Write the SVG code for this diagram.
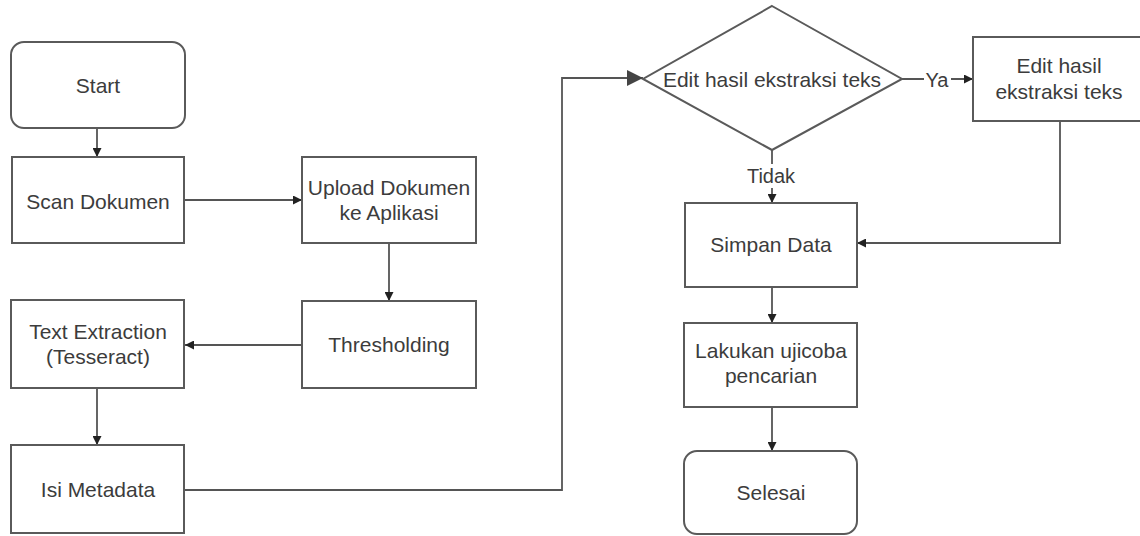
<svg xmlns="http://www.w3.org/2000/svg" width="1140" height="536" viewBox="0 0 1140 536">
<defs>
<marker id="arr" viewBox="0 0 10 10" refX="10" refY="5" markerWidth="9" markerHeight="9" markerUnits="userSpaceOnUse" orient="auto">
<path d="M0,0 L10,5 L0,10 Z" fill="#222"/>
</marker>
<marker id="arrBig" viewBox="0 0 10 10" refX="10" refY="5" markerWidth="16" markerHeight="16" markerUnits="userSpaceOnUse" orient="auto">
<path d="M0,0 L10,5 L0,10 Z" fill="#444"/>
</marker>
<style>
.box{fill:#fff;stroke:#5a5a5a;stroke-width:2}
.t{font-family:"Liberation Sans",Arial,sans-serif;font-size:21px;fill:#3c3c3c;text-anchor:middle}
.c{fill:none;stroke:#555;stroke-width:1.8}
.lbl{font-family:"Liberation Sans",Arial,sans-serif;font-size:20px;fill:#3c3c3c;text-anchor:middle}
</style>
</defs>
<rect width="1140" height="536" fill="#fff"/>
<g id="connectors">
<path class="c" d="M97,128 V157" marker-end="url(#arr)"/>
<path class="c" d="M184,200 H302" marker-end="url(#arr)"/>
<path class="c" d="M389,243 V301" marker-end="url(#arr)"/>
<path class="c" d="M302,345 H185" marker-end="url(#arr)"/>
<path class="c" d="M97,388 V445" marker-end="url(#arr)"/>
<path class="c" d="M185,490 H562 V78 H643" marker-end="url(#arrBig)"/>
<path class="c" d="M902,79 H973" marker-end="url(#arr)"/>
<path class="c" d="M772,150 V203" marker-end="url(#arr)"/>
<path class="c" d="M1060,121 V243 H857" marker-end="url(#arr)"/>
<path class="c" d="M772,287 V323" marker-end="url(#arr)"/>
<path class="c" d="M772,407 V451" marker-end="url(#arr)"/>
<rect x="924" y="68" width="27" height="22" fill="#fff"/>
<text class="lbl" x="937" y="87">Ya</text>
<rect x="745" y="164" width="54" height="24" fill="#fff"/>
<text class="lbl" x="771" y="183">Tidak</text>
</g>
<g id="start">
<rect class="box" x="11" y="42" width="174" height="86" rx="13"/>
<text class="t" x="98" y="93">Start</text>
</g>
<g id="scan">
<rect class="box" x="12" y="157" width="172" height="86"/>
<text class="t" x="98" y="209">Scan Dokumen</text>
</g>
<g id="upload">
<rect class="box" x="302" y="157" width="174" height="86"/>
<text class="t" x="389" y="195">Upload Dokumen</text>
<text class="t" x="389" y="220">ke Aplikasi</text>
</g>
<g id="thresholding">
<rect class="box" x="302" y="301" width="174" height="87"/>
<text class="t" x="389" y="352">Thresholding</text>
</g>
<g id="extraction">
<rect class="box" x="11" y="300" width="173" height="88"/>
<text class="t" x="98" y="339">Text Extraction</text>
<text class="t" x="98" y="364">(Tesseract)</text>
</g>
<g id="metadata">
<rect class="box" x="11" y="445" width="173" height="88"/>
<text class="t" x="98" y="497">Isi Metadata</text>
</g>
<g id="decision">
<path class="box" d="M772,6 L902,79 L772,150 L643,79 Z"/>
<text class="t" x="772" y="87">Edit hasil ekstraksi teks</text>
</g>
<g id="edit">
<rect class="box" x="973" y="37" width="174" height="84"/>
<text class="t" x="1059" y="73">Edit hasil</text>
<text class="t" x="1059" y="99">ekstraksi teks</text>
</g>
<g id="simpan">
<rect class="box" x="685" y="203" width="172" height="84"/>
<text class="t" x="771" y="252">Simpan Data</text>
</g>
<g id="ujicoba">
<rect class="box" x="684" y="323" width="173" height="84"/>
<text class="t" x="771" y="358">Lakukan ujicoba</text>
<text class="t" x="771" y="383">pencarian</text>
</g>
<g id="selesai">
<rect class="box" x="684" y="451" width="173" height="83" rx="13"/>
<text class="t" x="771" y="500">Selesai</text>
</g>
</svg>
